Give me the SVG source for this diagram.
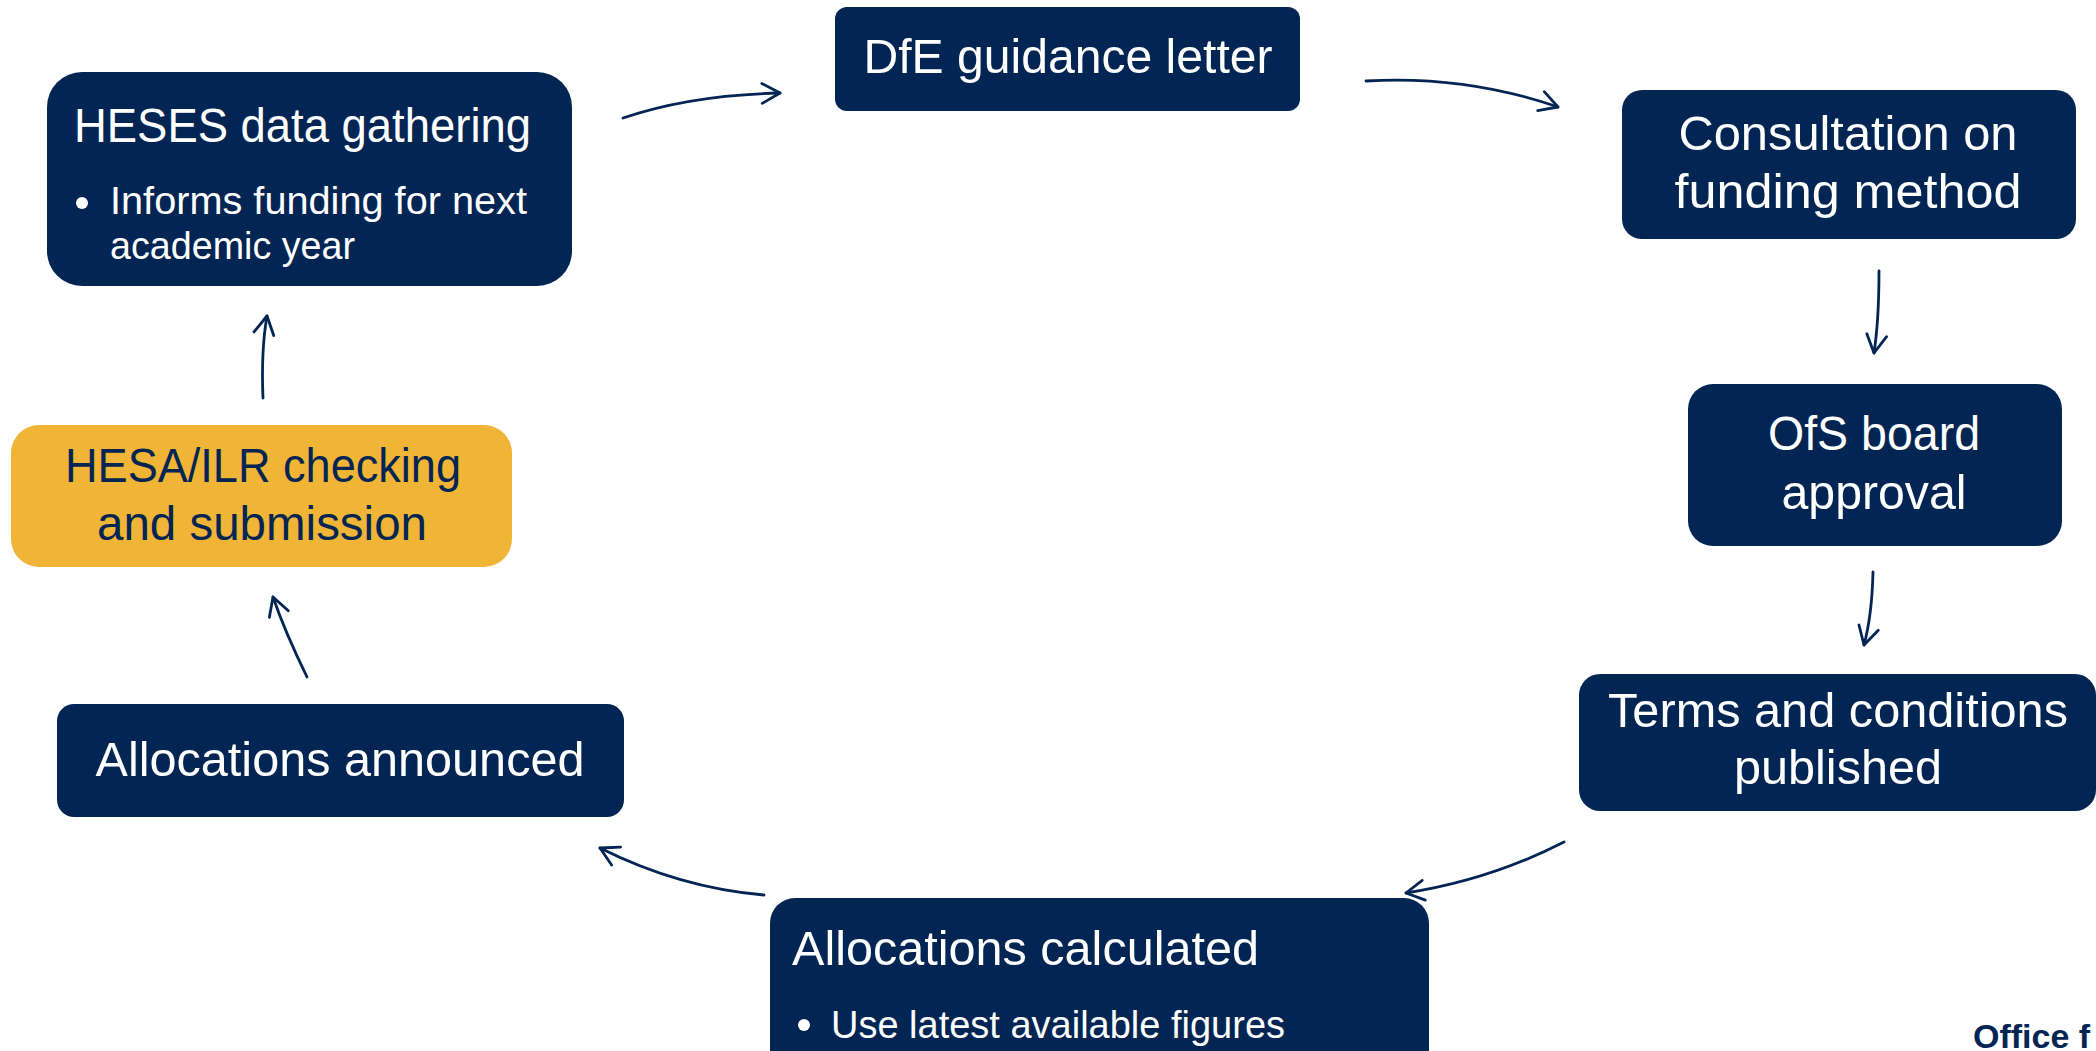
<svg xmlns="http://www.w3.org/2000/svg" width="2096" height="1051" viewBox="0 0 2096 1051">
<defs>
<style>
.box{fill:#022553}
.yel{fill:#F0B436}
.t{font-family:"Liberation Sans",Arial,sans-serif;font-size:48px;fill:#ffffff}
.tc{text-anchor:middle}
.dark{fill:#022553}
.b{font-family:"Liberation Sans",Arial,sans-serif;font-size:39px;fill:#ffffff}
.c{fill:none;stroke:#022553;stroke-width:2.8;stroke-linecap:round}
.logo{font-family:"Liberation Sans",Arial,sans-serif;font-size:34px;font-weight:bold;fill:#022553}
</style>
<marker id="ah" viewBox="-20 -12 24 24" refX="0" refY="0" markerWidth="24" markerHeight="24" markerUnits="userSpaceOnUse" orient="auto">
<path d="M -18 -10 L 0 0 L -18 10" fill="none" stroke="#022553" stroke-width="2.8" stroke-linecap="round" stroke-linejoin="round"/>
</marker>
</defs>
<rect width="2096" height="1051" fill="#ffffff"/>

<g id="connectors">
<path class="c" d="M 623 118 Q 690 95 780 93" marker-end="url(#ah)"/>
<path class="c" d="M 1366 81 Q 1465 75 1558 107" marker-end="url(#ah)"/>
<path class="c" d="M 1879 271 Q 1879 320 1874 353" marker-end="url(#ah)"/>
<path class="c" d="M 1873 572 Q 1872 615 1864 645" marker-end="url(#ah)"/>
<path class="c" d="M 1564 842 Q 1490 880 1406 893" marker-end="url(#ah)"/>
<path class="c" d="M 764 895 Q 680 888 600 848" marker-end="url(#ah)"/>
<path class="c" d="M 307 677 Q 285 632 273 597" marker-end="url(#ah)"/>
<path class="c" d="M 263 398 Q 261 350 267 316" marker-end="url(#ah)"/>
</g>

<g id="heses">
<rect class="box" x="47" y="72" width="525" height="214" rx="35"/>
<text class="t" x="74" y="142" textLength="457" lengthAdjust="spacingAndGlyphs">HESES data gathering</text>
<circle cx="82" cy="203" r="6" fill="#ffffff"/>
<text class="b" x="110" y="214" textLength="417" lengthAdjust="spacingAndGlyphs">Informs funding for next</text>
<text class="b" x="110" y="259" textLength="245" lengthAdjust="spacingAndGlyphs">academic year</text>
</g>

<g id="dfe">
<rect class="box" x="835" y="7" width="465" height="104" rx="12"/>
<text class="t tc" x="1068" y="73" textLength="409" lengthAdjust="spacingAndGlyphs">DfE guidance letter</text>
</g>

<g id="consultation">
<rect class="box" x="1622" y="90" width="454" height="149" rx="20"/>
<text class="t tc" x="1848" y="150" textLength="339" lengthAdjust="spacingAndGlyphs">Consultation on</text>
<text class="t tc" x="1848" y="208" textLength="347" lengthAdjust="spacingAndGlyphs">funding method</text>
</g>

<g id="ofs">
<rect class="box" x="1688" y="384" width="374" height="162" rx="25"/>
<text class="t tc" x="1874" y="450" textLength="212" lengthAdjust="spacingAndGlyphs">OfS board</text>
<text class="t tc" x="1874" y="509" textLength="185" lengthAdjust="spacingAndGlyphs">approval</text>
</g>

<g id="terms">
<rect class="box" x="1579" y="674" width="517" height="137" rx="21"/>
<text class="t tc" x="1838" y="727" textLength="460" lengthAdjust="spacingAndGlyphs">Terms and conditions</text>
<text class="t tc" x="1838" y="784" textLength="208" lengthAdjust="spacingAndGlyphs">published</text>
</g>

<g id="alloc-calculated">
<rect class="box" x="770" y="898" width="659" height="190" rx="25"/>
<text class="t" x="792" y="965" textLength="467" lengthAdjust="spacingAndGlyphs">Allocations calculated</text>
<circle cx="804" cy="1025" r="6" fill="#ffffff"/>
<text class="b" x="831" y="1038" textLength="454" lengthAdjust="spacingAndGlyphs">Use latest available figures</text>
</g>

<g id="alloc-announced">
<rect class="box" x="57" y="704" width="567" height="113" rx="17"/>
<text class="t tc" x="340" y="776" textLength="489" lengthAdjust="spacingAndGlyphs">Allocations announced</text>
</g>

<g id="hesa">
<rect class="yel" x="11" y="425" width="501" height="142" rx="28"/>
<text class="t tc dark" x="263" y="482" textLength="396" lengthAdjust="spacingAndGlyphs">HESA/ILR checking</text>
<text class="t tc dark" x="262" y="540" textLength="330" lengthAdjust="spacingAndGlyphs">and submission</text>
</g>

<text class="logo" x="1973" y="1048">Office f</text>
</svg>
